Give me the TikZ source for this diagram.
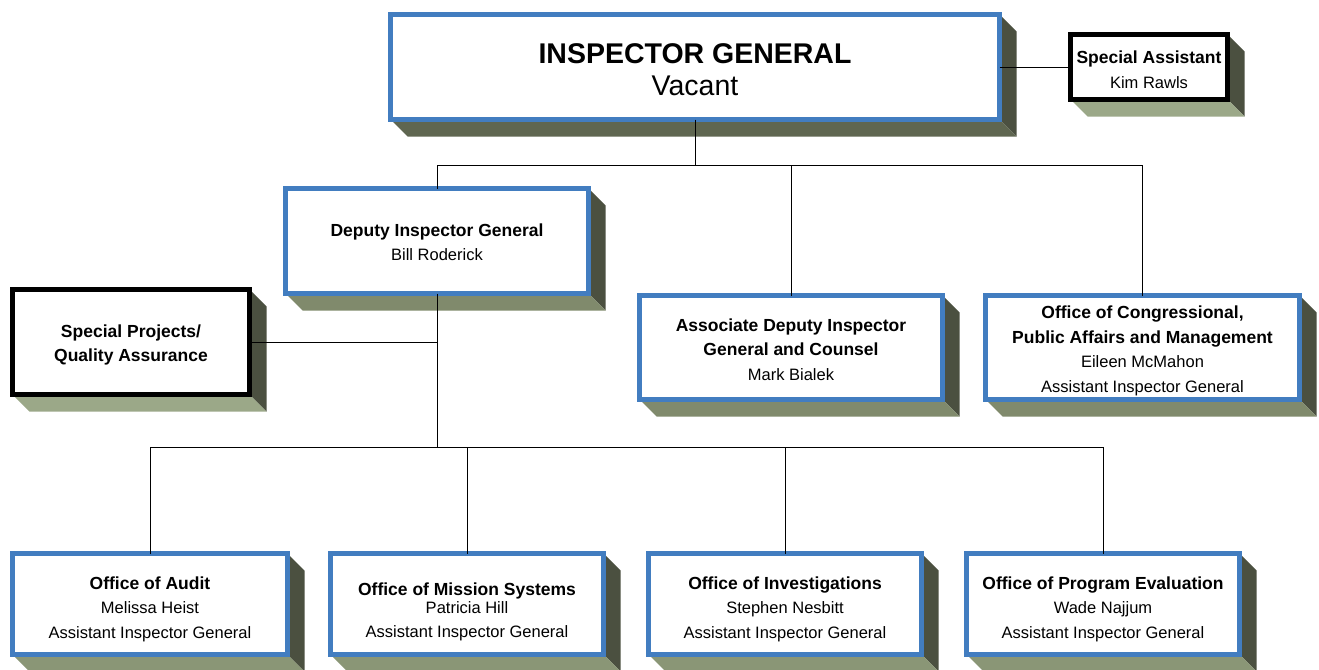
\documentclass[tikz,border=0pt]{standalone}
\usepackage{fontspec}
\setmainfont{Liberation Sans}
\usetikzlibrary{calc,backgrounds}
\definecolor{igblue}{RGB}{66,125,192}
\definecolor{shR}{RGB}{75,80,64}
\definecolor{shIG}{RGB}{95,102,80}
\definecolor{shLight}{RGB}{155,168,136}
\definecolor{shMid}{RGB}{128,138,108}
\definecolor{shLow}{RGB}{138,150,118}
\newcommand\bl[1]{{\fontsize{17.5}{24.5}\selectfont\bfseries #1}}
\newcommand\boxshade[2]{%
  \fill[shR] (#1.north east) -- ++(17,17) -- ($(#1.south east)+(17,17)$) -- (#1.south east) -- cycle;
  \fill[#2] (#1.south west) -- ++(17,17) -- ($(#1.south east)+(17,17)$) -- (#1.south east) -- cycle;}
% \orgnode[text opts]{style}{name}{x,y}{width}{height}{text shift}{text}
\newcommand\orgnode[8][]{%
  \node[#2, minimum width=#5, minimum height=#6] (#3) at (#4) {};
  \node[boxtext,#1] (#3-t) at ($(#3.center)+(0,#7)$) {#8};}
\tikzset{
  orgbox/.style={draw=igblue, line width=5pt, fill=white, inner sep=0pt, outer sep=0pt},
  blkbox/.style={orgbox, draw=black},
  boxtext/.style={inner sep=0pt, align=center, font=\fontsize{16.5}{24.5}\selectfont},
  conn/.style={draw=black, line width=0.8pt}
}
\begin{document}
\begin{tikzpicture}[x=1pt,y=-1pt]
\useasboundingbox (0,0) rectangle (1319,669);
% boxes and texts
\orgnode[font=\fontsize{28.5}{32}\selectfont]{orgbox}{ig}{695,67}{609}{105}{3}
  {\textbf{INSPECTOR GENERAL}\\Vacant}
\orgnode{blkbox}{sa}{1149,67}{157}{65}{2.5}
  {\bl{Special Assistant}\\Kim Rawls}
\orgnode{orgbox}{dep}{437,241}{303}{105}{1}
  {\bl{Deputy Inspector General}\\Bill Roderick}
\orgnode{blkbox}{sp}{131,342}{237}{105}{3}
  {\bl{Special Projects/}\\[-1pt]\bl{Quality Assurance}}
\orgnode{orgbox}{assoc}{791,347.5}{303}{104}{2}
  {\bl{Associate Deputy Inspector}\\\bl{General and Counsel}\\Mark Bialek}
\orgnode{orgbox}{cong}{1142.5,347.5}{314}{104}{3.5}
  {\bl{Office of Congressional,}\\\bl{Public Affairs and Management}\\Eileen McMahon\\Assistant Inspector General}
\orgnode{orgbox}{aud}{150,604}{275}{101}{5}
  {\bl{Office of Audit}\\Melissa Heist\\Assistant Inspector General}
\orgnode{orgbox}{ms}{467,604}{273}{101}{8}
  {\bl{Office of Mission Systems}\\[-7pt]Patricia Hill\\Assistant Inspector General}
\orgnode{orgbox}{inv}{785,604}{273}{101}{5}
  {\bl{Office of Investigations}\\Stephen Nesbitt\\Assistant Inspector General}
\orgnode{orgbox}{pe}{1103,604}{273}{101}{5}
  {\bl{Office of Program Evaluation}\\Wade Najjum\\Assistant Inspector General}
% shadows
\begin{scope}[on background layer]
  \boxshade{ig}{shIG}
  \boxshade{sa}{shLight}
  \boxshade{dep}{shMid}
  \boxshade{sp}{shLight}
  \boxshade{assoc}{shMid}
  \boxshade{cong}{shMid}
  \boxshade{aud}{shLow}
  \boxshade{ms}{shLow}
  \boxshade{inv}{shLow}
  \boxshade{pe}{shLow}
\end{scope}
% connectors
\coordinate (bus1) at (0,165);
\coordinate (bus2) at (0,447);
\draw[conn] (ig.east) -- (sa.west);
\draw[conn] (ig.south) -- (ig.south |- bus1);
\draw[conn] (dep.north) -- (dep.north |- bus1) -| (cong.north);
\draw[conn] (assoc.north) -- (assoc.north |- bus1);
\draw[conn] (sp.east) -- (sp.east -| dep.south);
\draw[conn] (dep.south) -- (dep.south |- bus2);
\draw[conn] (aud.north) -- (aud.north |- bus2) -| (pe.north);
\draw[conn] (ms.north) -- (ms.north |- bus2);
\draw[conn] (inv.north) -- (inv.north |- bus2);
\end{tikzpicture}
\end{document}
